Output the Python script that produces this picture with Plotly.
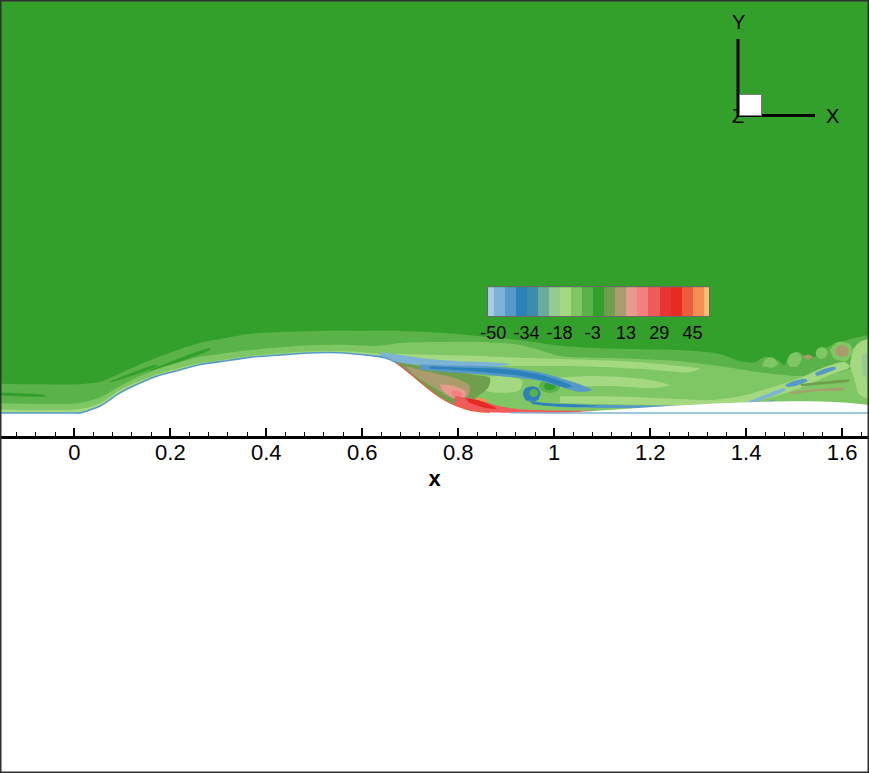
import numpy as np
import plotly.graph_objects as go

# ---------------- contour levels / colour map ----------------
n_levels = 20
level_min, level_max = -50.0, 50.0
paired_anchors = ['#a6cee3', '#1f78b4', '#b2df8a', '#33a02c', '#fb9a99', '#e31a1c', '#fdbf6f']
cbar_label_every = 3

# ---------------- geometry: hump wall profile ----------------
hump_x = [-0.200, 0.000, 0.012, 0.054, 0.095, 0.137, 0.179, 0.220, 0.262, 0.304, 0.366, 0.429,
          0.470, 0.533, 0.574, 0.616, 0.647, 0.672, 0.699, 0.720, 0.741, 0.762, 0.783, 0.803,
          0.824, 0.845, 0.866, 0.908, 1.000, 1.700]
hump_y = [0.000, 0.000, 0.000, 0.0146, 0.042, 0.0625, 0.079, 0.0896, 0.101, 0.107, 0.116, 0.121,
          0.124, 0.126, 0.124, 0.120, 0.115, 0.104, 0.083, 0.065, 0.048, 0.033, 0.021, 0.0125,
          0.006, 0.003, 0.0015, 0.0003, 0.000, 0.000]

# ---------------- vorticity regions ----------------
outer_bl_x = [-0.200, -0.071, 0.012, 0.054, 0.095, 0.158, 0.220, 0.262, 0.304, 0.366, 0.429, 0.512,
              0.595, 0.679, 0.762, 0.845, 0.928, 1.012, 1.095, 1.178, 1.262, 1.345, 1.387, 1.418,
              1.439, 1.466, 1.480, 1.491, 1.508, 1.522, 1.543, 1.553, 1.570, 1.585, 1.606, 1.626,
              1.700, 1.700, -0.200]
outer_bl_y = [0.062, 0.060, 0.060, 0.065, 0.083, 0.110, 0.133, 0.146, 0.154, 0.165, 0.169, 0.171,
              0.171, 0.171, 0.167, 0.160, 0.152, 0.140, 0.135, 0.133, 0.131, 0.123, 0.108, 0.106,
              0.117, 0.110, 0.100, 0.121, 0.127, 0.119, 0.117, 0.133, 0.1375, 0.146, 0.150, 0.156,
              0.160, -0.1, -0.1]
outer_bl_level = -5.3

inner_bl_x = [-0.200, -0.030, 0.012, 0.054, 0.095, 0.137, 0.179, 0.220, 0.262, 0.304, 0.366, 0.470,
              0.554, 0.637, 0.679, 0.762, 0.845, 0.928, 1.012, 1.095, 1.178, 1.262, 1.345, 1.428,
              1.512, 1.595, 1.700, 1.700, -0.200]
inner_bl_y = [0.021, 0.019, 0.021, 0.033, 0.056, 0.077, 0.094, 0.106, 0.117, 0.123, 0.131, 0.140,
              0.142, 0.140, 0.146, 0.148, 0.148, 0.142, 0.119, 0.115, 0.1125, 0.108, 0.098, 0.085,
              0.077, 0.085, 0.115, -0.1, -0.1]
inner_bl_level = -10.5

near_wall_x = [-0.200, 0.012, 0.054, 0.095, 0.137, 0.179, 0.220, 0.262, 0.304, 0.366, 0.470, 0.533,
               0.595, 0.637, 0.679, 0.762, 0.845, 0.928, 1.012, 1.095, 1.178, 1.262, 1.303, 1.283,
               1.178, 1.095, 1.012, 0.928, 0.845, 0.762, 0.699, 0.689, -0.200]
near_wall_y = [0.0083, 0.0083, 0.021, 0.048, 0.067, 0.083, 0.094, 0.104, 0.110, 0.119, 0.127, 0.129,
               0.127, 0.123, 0.123, 0.121, 0.119, 0.115, 0.1125, 0.110, 0.106, 0.098, 0.092, 0.085,
               0.092, 0.096, 0.098, 0.098, 0.100, 0.102, 0.106, -0.1, -0.1]
near_wall_level = -15.8

streak0_x = [-0.200, -0.060, -0.060, -0.200]
streak0_y = [0.044, 0.037, 0.035, 0.040]
streak1_x = [0.0744, 0.172, 0.172, 0.0744]
streak1_y = [0.066, 0.101, 0.098, 0.063]
streak2_x = [0.158, 0.283, 0.283, 0.158]
streak2_y = [0.090, 0.135, 0.132, 0.087]
streak_level = 0.0

light0_x = [0.835, 0.887, 0.933, 0.928, 0.887, 0.845]
light0_y = [0.073, 0.077, 0.067, 0.048, 0.042, 0.048]
light1_x = [1.001, 1.074, 1.137, 1.199, 1.241, 1.199, 1.137, 1.074, 1.012]
light1_y = [0.073, 0.077, 0.075, 0.069, 0.058, 0.052, 0.056, 0.056, 0.052]
light2_x = [1.012, 1.095, 1.178, 1.262, 1.324, 1.387, 1.449, 1.512, 1.564, 1.606, 1.616, 1.574,
            1.522, 1.460, 1.397, 1.324, 1.262, 1.178, 1.095, 1.012]
light2_y = [0.035, 0.035, 0.033, 0.029, 0.027, 0.035, 0.052, 0.073, 0.096, 0.106, 0.096, 0.079,
            0.056, 0.035, 0.019, 0.0146, 0.0146, 0.017, 0.019, 0.021]
right_col_x = [1.622, 1.637, 1.700, 1.700, 1.637, 1.626, 1.616]
right_col_y = [0.131, 0.148, 0.158, 0.027, 0.0375, 0.069, 0.100]
light_level = -15.8
right_core_x = [1.641, 1.700, 1.700, 1.643]
right_core_y = [0.121, 0.131, 0.058, 0.079]
right_core_level = -21.1

olive_x = [0.668, 0.720, 0.783, 0.835, 0.866, 0.862, 0.841, 0.824, 0.803, 0.668]
olive_y = [0.110, 0.098, 0.090, 0.079, 0.073, 0.052, 0.035, 0.017, -0.015, -0.015]
olive_level = 5.3
tan_x = [0.689, 0.741, 0.793, 0.824, 0.820, 0.787, 0.751, 0.710]
tan_y = [0.098, 0.085, 0.073, 0.056, 0.035, 0.031, 0.052, 0.077]
tan_level = 10.5
pink_x = [0.762, 0.793, 0.816, 0.808, 0.783, 0.766]
pink_y = [0.060, 0.056, 0.044, 0.027, 0.035, 0.048]
pink_level = 15.8
pink2_x = [0.787, 0.808, 0.803, 0.787]
pink2_y = [0.048, 0.042, 0.031, 0.0375]
pink2_level = 21.1
red_x = [0.793, 0.824, 0.855, 0.887, 0.928, 1.012, 1.095, 1.147, 1.147, 0.793]
red_y = [0.036, 0.031, 0.023, 0.014, 0.008, 0.005, 0.004, 0.002, -0.01, -0.01]
red_level = 26.3
dark_red_x = [0.814, 0.841, 0.866, 0.880, 0.855, 0.824]
dark_red_y = [0.031, 0.027, 0.017, 0.009, 0.011, 0.021]
dark_red_level = 36.8
orange_x = [0.837, 0.862, 0.858, 0.837]
orange_y = [0.0330, 0.026, 0.023, 0.029]
orange_level = 47.4

shear_light_x = [0.637, 0.679, 0.741, 0.803, 0.866, 0.908, 0.866, 0.803, 0.741, 0.699, 0.674, 0.653, 0.637]
shear_light_y = [0.127, 0.121, 0.1125, 0.108, 0.106, 0.102, 0.096, 0.096, 0.098, 0.102, 0.106, 0.115, 0.119]
shear_light_level = -47.4
shear_halo_x = [0.720, 0.783, 0.845, 0.908, 0.970, 1.012, 1.053, 1.078, 1.053, 1.012, 0.970, 0.908, 0.845, 0.783, 0.720]
shear_halo_y = [0.101, 0.099, 0.098, 0.094, 0.085, 0.073, 0.060, 0.048, 0.044, 0.054, 0.067, 0.075, 0.081, 0.085, 0.090]
shear_halo_level = -42.1
shear_core_x = [0.741, 0.803, 0.866, 0.918, 0.970, 1.008, 1.037, 1.024, 0.980, 0.918, 0.866, 0.803, 0.741]
shear_core_y = [0.097, 0.095, 0.093, 0.089, 0.080, 0.068, 0.056, 0.053, 0.067, 0.079, 0.084, 0.089, 0.092]
shear_core_level = -36.8

eye_ring_x = [1.014, 1.007, 0.991, 0.975, 0.968, 0.975, 0.991, 1.007]
eye_ring_y = [0.056, 0.0667, 0.071, 0.0667, 0.056, 0.0458, 0.0417, 0.0458]
eye_ring_level = -5.3
eye_core_x = [1.004, 1.000, 0.991, 0.982, 0.979, 0.982, 0.991, 1.000]
eye_core_y = [0.056, 0.062, 0.0646, 0.062, 0.056, 0.050, 0.048, 0.050]
eye_core_level = 0.0

vortex_x = [0.972, 0.967, 0.954, 0.940, 0.935, 0.940, 0.954, 0.967]
vortex_y = [0.040, 0.0515, 0.056, 0.0515, 0.040, 0.0277, 0.023, 0.0277]
vortex_level = -36.8
vortex_core_x = [0.967, 0.964, 0.958, 0.951, 0.948, 0.951, 0.958, 0.964]
vortex_core_y = [0.0417, 0.0475, 0.050, 0.0475, 0.0417, 0.0358, 0.033, 0.0358]
vortex_core_level = -5.3

wall_blue_x = [0.945, 0.980, 1.033, 1.095, 1.199, 1.303, 1.387, 1.428, 1.460, 1.449, 1.397, 1.303, 1.199, 1.095, 1.012, 0.960]
wall_blue_y = [0.027, 0.021, 0.019, 0.017, 0.0156, 0.0156, 0.017, 0.021, 0.027, 0.019, 0.0104, 0.0094, 0.0094, 0.0104, 0.0125, 0.019]
wall_blue_level = -42.1
wall_dark_x = [0.949, 0.991, 1.053, 1.095, 1.053, 0.991, 0.955]
wall_dark_y = [0.025, 0.0196, 0.017, 0.0150, 0.0125, 0.0146, 0.019]
wall_dark_level = -36.8

rise_x = [1.397, 1.449, 1.480, 1.482, 1.453, 1.403]
rise_y = [0.021, 0.0417, 0.052, 0.048, 0.035, 0.0167]
rise_level = -47.4
rise_core1_x = [1.480, 1.501, 1.524, 1.528, 1.508, 1.487]
rise_core1_y = [0.058, 0.067, 0.071, 0.067, 0.058, 0.054]
rise_core2_x = [1.543, 1.564, 1.585, 1.587, 1.566, 1.547]
rise_core2_y = [0.083, 0.092, 0.096, 0.092, 0.083, 0.077]
rise_core_level = -42.1

lump1_x = [1.433, 1.441, 1.456, 1.466, 1.454]
lump1_y = [0.098, 0.1125, 0.115, 0.102, 0.094]
lump2_x = [1.485, 1.491, 1.506, 1.516, 1.508, 1.491]
lump2_y = [0.106, 0.121, 0.127, 0.115, 0.098, 0.096]
blob_ring_x = [1.574, 1.591, 1.616, 1.622, 1.608, 1.583]
blob_ring_y = [0.131, 0.148, 0.1437, 0.127, 0.108, 0.1125]
blob2_x = [1.570, 1.566, 1.558, 1.549, 1.545, 1.549, 1.558, 1.566]
blob2_y = [0.125, 0.1337, 0.1375, 0.1337, 0.125, 0.1162, 0.1125, 0.1162]
lump_level = -10.5
blob_tan_x = [1.587, 1.600, 1.612, 1.612, 1.597, 1.585]
blob_tan_y = [0.135, 0.1417, 0.135, 0.121, 0.117, 0.125]
blob3_x = [1.518, 1.528, 1.539, 1.528]
blob3_y = [0.117, 0.122, 0.117, 0.1104]
tan_streak2_x = [1.491, 1.553, 1.606, 1.601, 1.549, 1.495]
tan_streak2_y = [0.0437, 0.050, 0.052, 0.048, 0.0458, 0.0396]
blob_tan_level = 10.5
tan_streak1_x = [1.512, 1.574, 1.616, 1.612, 1.570, 1.516]
tan_streak1_y = [0.0604, 0.0667, 0.069, 0.065, 0.0604, 0.056]
tan_streak1_level = 5.3

# x-axis ticks
x_major = 0.2
x_minor = 0.04
x_range = [-0.155, 1.656]
y_range = [-0.0479, 0.8604]

# ---------------- helpers ----------------
levels = np.linspace(level_min, level_max, n_levels)
step = levels[1] - levels[0]


def _rgb(h):
    h = h.lstrip('#')
    return np.array([int(h[i:i + 2], 16) for i in (0, 2, 4)], float)


_anchor_rgb = [_rgb(c) for c in paired_anchors]


def cmap(f):
    pos = f * (len(_anchor_rgb) - 1)
    i = min(int(np.floor(pos)), len(_anchor_rgb) - 2)
    t = pos - i
    c = (1 - t) * _anchor_rgb[i] + t * _anchor_rgb[i + 1]
    return 'rgb(%d,%d,%d)' % tuple(np.round(c).astype(int))


n_bands = n_levels + 1
band_colors = [cmap(k / (n_bands - 1)) for k in range(n_bands)]


def band_of(v):
    if v < level_min:
        return 0
    if v > level_max:
        return n_bands - 1
    return int(min(1 + np.floor((v - level_min) / step), n_bands - 2))


def col(v):
    return band_colors[band_of(v)]


regions = [
    (outer_bl_x, outer_bl_y, outer_bl_level),
    (streak1_x, streak1_y, streak_level),
    (streak2_x, streak2_y, streak_level),
    (streak0_x, streak0_y, streak_level),
    (inner_bl_x, inner_bl_y, inner_bl_level),
    (near_wall_x, near_wall_y, near_wall_level),
    (light0_x, light0_y, light_level),
    (light1_x, light1_y, light_level),
    (light2_x, light2_y, light_level),
    (right_col_x, right_col_y, light_level),
    (right_core_x, right_core_y, right_core_level),
    (lump1_x, lump1_y, lump_level),
    (lump2_x, lump2_y, lump_level),
    (blob_ring_x, blob_ring_y, lump_level),
    (blob2_x, blob2_y, lump_level),
    (blob_tan_x, blob_tan_y, blob_tan_level),
    (blob3_x, blob3_y, blob_tan_level),
    (tan_streak1_x, tan_streak1_y, tan_streak1_level),
    (tan_streak2_x, tan_streak2_y, blob_tan_level),
    (olive_x, olive_y, olive_level),
    (tan_x, tan_y, tan_level),
    (pink_x, pink_y, pink_level),
    (pink2_x, pink2_y, pink2_level),
    (red_x, red_y, red_level),
    (dark_red_x, dark_red_y, dark_red_level),
    (orange_x, orange_y, orange_level),
    (eye_ring_x, eye_ring_y, eye_ring_level),
    (eye_core_x, eye_core_y, eye_core_level),
    (shear_light_x, shear_light_y, shear_light_level),
    (shear_halo_x, shear_halo_y, shear_halo_level),
    (shear_core_x, shear_core_y, shear_core_level),
    (vortex_x, vortex_y, vortex_level),
    (vortex_core_x, vortex_core_y, vortex_core_level),
    (wall_blue_x, wall_blue_y, wall_blue_level),
    (wall_dark_x, wall_dark_y, wall_dark_level),
    (rise_x, rise_y, rise_level),
    (rise_core1_x, rise_core1_y, rise_core_level),
    (rise_core2_x, rise_core2_y, rise_core_level),
]

fig = go.Figure()
for xs, ys, lev in regions:
    c = col(lev)
    fig.add_trace(go.Scatter(x=xs, y=ys, mode='lines', fill='toself', fillcolor=c,
                             line=dict(color=c, width=0, shape='spline', smoothing=0.8),
                             hoverinfo='skip', showlegend=False))

# solid body (hump + wall)
hx = list(hump_x) + [hump_x[-1], hump_x[0]]
hy = list(hump_y) + [-0.3, -0.3]
fig.add_trace(go.Scatter(x=hx, y=hy, mode='lines', fill='toself', fillcolor='white',
                         line=dict(color='white', width=0, shape='spline', smoothing=0.6),
                         hoverinfo='skip', showlegend=False))

hxa = np.array(hump_x)
hya = np.array(hump_y)
segs = [((hxa <= 0.70), col(-40.0), 1.6), (((hxa >= 0.67) & (hxa <= 0.87)), col(40.0), 1.2),
        ((hxa >= 0.9), col(-48.0), 1.4)]
for m, c, w in segs:
    fig.add_trace(go.Scatter(x=hxa[m], y=hya[m], mode='lines',
                             line=dict(color=c, width=w, shape='spline', smoothing=0.6),
                             hoverinfo='skip', showlegend=False))

# ---------------- colour legend (bars on a second axis pair) ----------------
edges = np.concatenate([[level_min - step / 2], levels, [level_max + step / 2]])
centers = (edges[:-1] + edges[1:]) / 2
widths = edges[1:] - edges[:-1]
fig.add_trace(go.Bar(x=centers, y=[1] * n_bands, width=widths, base=0,
                     marker=dict(color=band_colors, line=dict(width=0)),
                     xaxis='x2', yaxis='y2', hoverinfo='skip', showlegend=False))
tick_vals = levels[::cbar_label_every]
tick_text = ['%.0f' % v for v in tick_vals]

FONT = 'Liberation Sans, Arial, Helvetica, sans-serif'
W, H = 869, 773
plot_bottom_px = 436

fig.update_layout(
    template='none',
    width=W, height=H, margin=dict(l=0, r=0, t=0, b=0, pad=0, autoexpand=False), autosize=False,
    paper_bgcolor='white', plot_bgcolor=band_colors[band_of(0.0)],
    showlegend=False, bargap=0,
    font=dict(family=FONT, color='black'),
    xaxis=dict(range=x_range, domain=[0, 1], anchor='y', showgrid=False, zeroline=False, automargin=False,
               showline=True, linecolor='black', linewidth=2.5,
               ticks='inside', ticklen=8, tickwidth=2, tickcolor='black',
               tick0=0, dtick=x_major, ticklabelstandoff=-5,
               minor=dict(ticks='inside', ticklen=4, tickwidth=1, dtick=x_minor, tickcolor='black', showgrid=False),
               tickfont=dict(size=22, family=FONT, color='black'),
               title=dict(text='<b>x</b>', font=dict(size=22, family=FONT, color='black'), standoff=7)),
    yaxis=dict(range=y_range, domain=[1 - plot_bottom_px / H, 1], anchor='x', visible=False,
               showgrid=False, zeroline=False, automargin=False),
    xaxis2=dict(range=[edges[0], edges[-1]], domain=[487.7 / W, 709 / W], anchor='y2', automargin=False,
                showgrid=False, zeroline=False, showline=True, mirror=True, linecolor='#6a6a6a',
                linewidth=1, tickvals=tick_vals, ticktext=tick_text, ticks='',
                tickfont=dict(size=18, family=FONT, color='black')),
    yaxis2=dict(range=[0, 1], domain=[1 - 316 / H, 1 - 287.3 / H], anchor='x2', showgrid=False,
                zeroline=False, showline=True, mirror=True, linecolor='#6a6a6a', linewidth=1,
                showticklabels=False, ticks='', automargin=False),
)

# axis triad (decoration) and frame
tri_font = dict(size=20, family=FONT, color='black')
shapes = [
    dict(type='line', xref='paper', yref='paper', x0=738 / W, x1=738 / W, y0=1 - 117 / H, y1=1 - 39 / H,
         line=dict(color='black', width=3)),
    dict(type='line', xref='paper', yref='paper', x0=737 / W, x1=815 / W, y0=1 - 115.5 / H, y1=1 - 115.5 / H,
         line=dict(color='black', width=3)),
    dict(type='rect', xref='paper', yref='paper', x0=0, x1=1, y0=0, y1=1,
         line=dict(color='#303030', width=3), layer='above'),
]
fig.update_layout(shapes=shapes)
annotations = [
    dict(text='Y', x=738.5 / W, y=1 - 21.5 / H, xref='paper', yref='paper', showarrow=False,
         font=tri_font, xanchor='center', yanchor='middle'),
    dict(text='X', x=832.5 / W, y=1 - 115.5 / H, xref='paper', yref='paper', showarrow=False,
         font=tri_font, xanchor='center', yanchor='middle'),
    dict(text='Z', x=738 / W, y=1 - 115.5 / H, xref='paper', yref='paper', showarrow=False,
         font=tri_font, xanchor='center', yanchor='middle'),
    dict(text=' ', x=750 / W, y=1 - 104.5 / H, xref='paper', yref='paper', showarrow=False,
         width=21, height=20, bgcolor='white', bordercolor='#7a7a7a', borderwidth=1, borderpad=0,
         xanchor='center', yanchor='middle', font=dict(size=10)),
]
fig.update_layout(annotations=annotations)

fig.write_html('out.html', config={'responsive': False},
               post_script="document.body.style.margin='0';document.body.style.padding='0';"
                           "document.body.style.overflow='hidden';")
